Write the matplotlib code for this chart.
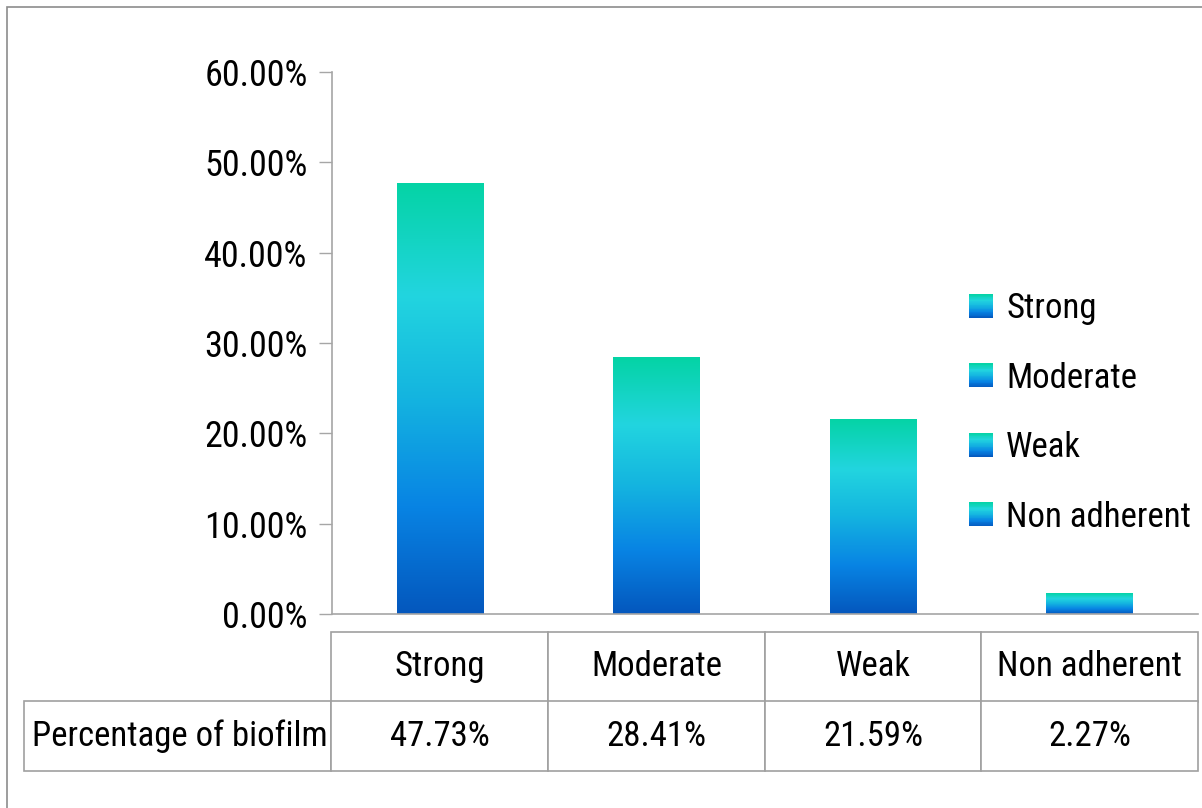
import numpy as np
import matplotlib
matplotlib.use("Agg")
import matplotlib.pyplot as plt
from matplotlib.colors import LinearSegmentedColormap
from matplotlib.patches import Rectangle
from matplotlib.legend_handler import HandlerBase
from matplotlib.ticker import FuncFormatter

# ---------------------------------------------------------------------------
# data
# ---------------------------------------------------------------------------
categories = ["Strong", "Moderate", "Weak", "Non adherent"]
values = [47.73, 28.41, 21.59, 2.27]          # percent
row_label = "Percentage of biofilm"
y_ticks = [0, 10, 20, 30, 40, 50, 60]

plt.rcParams["font.family"] = ["Roboto Condensed", "Carlito", "Liberation Sans"]
FS = 26       # tick labels
FS_T = 25     # table + legend
GRID = "#A6A6A6"

grad = LinearSegmentedColormap.from_list(
    "excel_grad",
    [(0.00, "#0457BD"), (0.25, "#0884E4"), (0.50, "#14B4E0"),
     (0.74, "#22D5DF"), (1.00, "#04D3A5")],
)


class GradientHandler(HandlerBase):
    # legend key drawn as a stack of thin strips
    def create_artists(self, legend, orig_handle, xdescent, ydescent,
                       width, height, fontsize, trans):
        n = 30
        size = min(width, height)
        x0 = -xdescent
        y0 = -ydescent + (height - size) / 2
        arts = []
        for i in range(n):
            r = Rectangle((x0, y0 + size * i / n), size, size / n + 0.3,
                          facecolor=grad((i + 0.5) / n), edgecolor="none",
                          transform=trans)
            arts.append(r)
        return arts


fig = plt.figure(figsize=(12.02, 8.08), dpi=100)
ax = fig.add_axes([332 / 1202, 1 - 614 / 808, 866 / 1202, 542 / 808])

x = np.arange(len(categories))
bars = ax.bar(x, values, width=0.4, color="none", edgecolor="none")

# gradient fill for each bar (gradient spans the bar's own height)
g = np.linspace(0, 1, 256).reshape(-1, 1)
for b in bars:
    x0, w, h = b.get_x(), b.get_width(), b.get_height()
    im = ax.imshow(g, cmap=grad, origin="lower", aspect="auto",
                   extent=[x0, x0 + w, 0, h], zorder=2)
    im.set_clip_path(b)

ax.set_xlim(-0.5, len(categories) - 0.5)
ax.set_ylim(0, 60)
ax.set_yticks(y_ticks)
ax.yaxis.set_major_formatter(FuncFormatter(lambda v, p: f"{v:.2f}%"))
ax.set_xticks([])
ax.tick_params(axis="y", direction="out", length=9.5, width=1,
               color=GRID, labelsize=FS, pad=8)
for s in ["top", "right"]:
    ax.spines[s].set_visible(False)
for s in ["left", "bottom"]:
    ax.spines[s].set_color(GRID)
    ax.spines[s].set_linewidth(1.2)

# data table under the axis (first column holds the row label)
tbl = ax.table(
    cellText=[[row_label] + [f"{v:.2f}%" for v in values]],
    colLabels=[""] + categories,
    colWidths=[308] + [217] * len(categories),
    cellLoc="center",
    bbox=[-308 / 866, -157 / 542, 1 + 308 / 866, 139 / 542],
)
tbl.auto_set_font_size(False)
for (r, c), cell in tbl.get_celld().items():
    cell.set_edgecolor("#A0A0A0")
    cell.set_linewidth(1.2)
    cell.get_text().set_fontsize(FS_T)
    cell.get_text().set_va("center")
    if r == 0 and c == 0:
        cell.visible_edges = ""
    if r == 1 and c == 0:
        cell.get_text().set_horizontalalignment("left")
        cell.PAD = 0.025

# legend on the right
leg = fig.legend(
    list(bars), categories,
    handler_map={type(bars[0]): GradientHandler()},
    loc="center left", bbox_to_anchor=(952 / 1202, 1 - 413 / 808),
    frameon=False, fontsize=FS_T, handlelength=0.68, handleheight=0.68,
    handletextpad=0.38, labelspacing=1.05, borderpad=0,
)

# outer chart-area border (only left/top visible in the crop)
fig.patches.append(Rectangle((7 / 1202, -0.5), 2, 0.5 + 1 - 7 / 808,
                             transform=fig.transFigure, fill=False,
                             edgecolor="#8C8C8C", linewidth=1.2))

fig.savefig("out.png", dpi=100)
